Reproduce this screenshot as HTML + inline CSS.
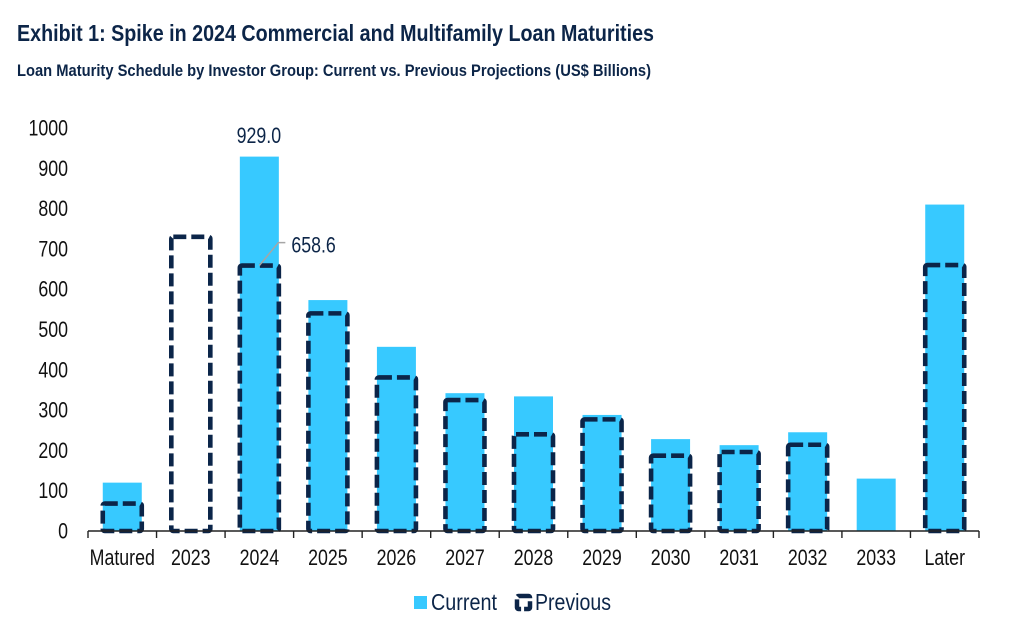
<!DOCTYPE html>
<html lang="en">
<head>
<meta charset="utf-8">
<title>Exhibit 1: Spike in 2024 Commercial and Multifamily Loan Maturities</title>
<style>
  html, body { margin: 0; padding: 0; background: #fff; }
  body { width: 1018px; height: 634px; overflow: hidden; }
  svg { display: block; font-family: "Liberation Sans", Arial, sans-serif; }
</style>
</head>
<body>
<svg id="chart" width="1018" height="634" viewBox="0 0 1018 634" xmlns="http://www.w3.org/2000/svg">
  <text x="17" y="41" font-size="23" font-weight="700" fill="#0c2548" textLength="637" lengthAdjust="spacingAndGlyphs">Exhibit 1: Spike in 2024 Commercial and Multifamily Loan Maturities</text>
  <text x="17" y="76" font-size="16.5" font-weight="700" fill="#0c2548" textLength="634" lengthAdjust="spacingAndGlyphs">Loan Maturity Schedule by Investor Group: Current vs. Previous Projections (US$ Billions)</text>
  <g id="bars-current"></g>
  <g id="bars-previous"></g>
  <g id="axes"></g>
  <polyline id="leader" fill="none" stroke="#a6a6a6" stroke-width="1.5"></polyline>
  <g id="labels"></g>
  <g>
    <g>
      <rect x="414" y="596" width="13" height="13" fill="#37c9ff"></rect>
      <text x="431" y="610" font-size="23" fill="#0c2548" textLength="66" lengthAdjust="spacingAndGlyphs">Current</text>
    </g>
    <g>
      <rect x="517" y="596" width="13" height="13" rx="1.5" fill="none" stroke="#0c2548" stroke-width="4.5" stroke-dasharray="13 3"></rect>
      <text x="535" y="610" font-size="23" fill="#0c2548" textLength="76" lengthAdjust="spacingAndGlyphs">Previous</text>
    </g>
  </g>
</svg>
<script>
const categories = ["Matured", "2023", "2024", "2025", "2026", "2027", "2028", "2029", "2030", "2031", "2032", "2033", "Later"];
const currentValues = [120, 0, 929.0, 573, 457, 342, 334, 288, 228, 213, 245, 130, 810];
const previousValues = [68, 730, 658.6, 540, 381, 325, 240, 277, 187, 196, 214, null, 660];
const yTicks = [0, 100, 200, 300, 400, 500, 600, 700, 800, 900, 1000];
const labelledCurrent = "2024";
const labelledPrevious = "2024";

const NS = "http://www.w3.org/2000/svg";
const plot = { left: 88, right: 979, bottom: 531, top: 128, yMax: 1000, barWidth: 39 };
const band = (plot.right - plot.left) / categories.length;
const xCenter = i => plot.left + band * (i + 0.5);
const yScale = v => plot.bottom - (v / plot.yMax) * (plot.bottom - plot.top);

function make(tag, attrs, parent) {
  const el = document.createElementNS(NS, tag);
  Object.keys(attrs).forEach(k => el.setAttribute(k, attrs[k]));
  parent.appendChild(el);
  return el;
}
function squeezedText(str, x, y, anchor, fill, parent) {
  const t = make("text", { "font-size": 22.5, fill: fill, "text-anchor": anchor, transform: "translate(" + x + "," + y + ") scale(0.79,1)" }, parent);
  t.textContent = str;
  return t;
}

const gCur = document.getElementById("bars-current");
const gPrev = document.getElementById("bars-previous");
const gAxes = document.getElementById("axes");
const gLabels = document.getElementById("labels");

categories.forEach((cat, i) => {
  const v = currentValues[i];
  if (v > 0) {
    const bar = make("rect", { x: xCenter(i) - plot.barWidth / 2, y: yScale(v), width: plot.barWidth, height: plot.bottom - yScale(v), fill: "#37c9ff" }, gCur);
    
    
  }
  const p = previousValues[i];
  if (p !== null) {
    const outline = make("rect", { x: xCenter(i) - plot.barWidth / 2, y: yScale(p), width: plot.barWidth, height: plot.bottom - yScale(p), rx: 2, fill: "none", stroke: "#0b2549", "stroke-width": 4.6, "stroke-dasharray": "13 5" }, gPrev);
    
    
  }
  const label = squeezedText(cat, xCenter(i), 565, "middle", "#111", gAxes);
  
  
});

for (let i = 0; i <= categories.length; i++) {
  const x = plot.left + band * i;
  const tick = make("line", { x1: x, x2: x, y1: plot.bottom, y2: plot.bottom + 7, stroke: "#222", "stroke-width": 1.4 }, gAxes);
  
  
}
const axisLine = make("line", { x1: plot.left, x2: plot.right, y1: plot.bottom, y2: plot.bottom, stroke: "#222", "stroke-width": 1.4 }, gAxes);



yTicks.forEach(v => {
  const label = squeezedText(String(v), 68, yScale(v) + 7.5, "end", "#111", gAxes);
  
  
});

const curIdx = categories.indexOf(labelledCurrent);
const prevIdx = categories.indexOf(labelledPrevious);

const curLabel = squeezedText(currentValues[curIdx].toFixed(1), xCenter(curIdx) - 0.5, yScale(currentValues[curIdx]) - 13.5, "middle", "#0c2548", gLabels);



const py = yScale(previousValues[prevIdx]);
const px = xCenter(prevIdx);
const prevLabel = squeezedText(previousValues[prevIdx].toFixed(1), px + 32, py - 13, "start", "#0c2548", gLabels);



document.getElementById("leader").setAttribute("points",
  px + "," + py + " " + (px + 19) + "," + (py - 23) + " " + (px + 26) + "," + (py - 23));
</script>
</body>
</html>
